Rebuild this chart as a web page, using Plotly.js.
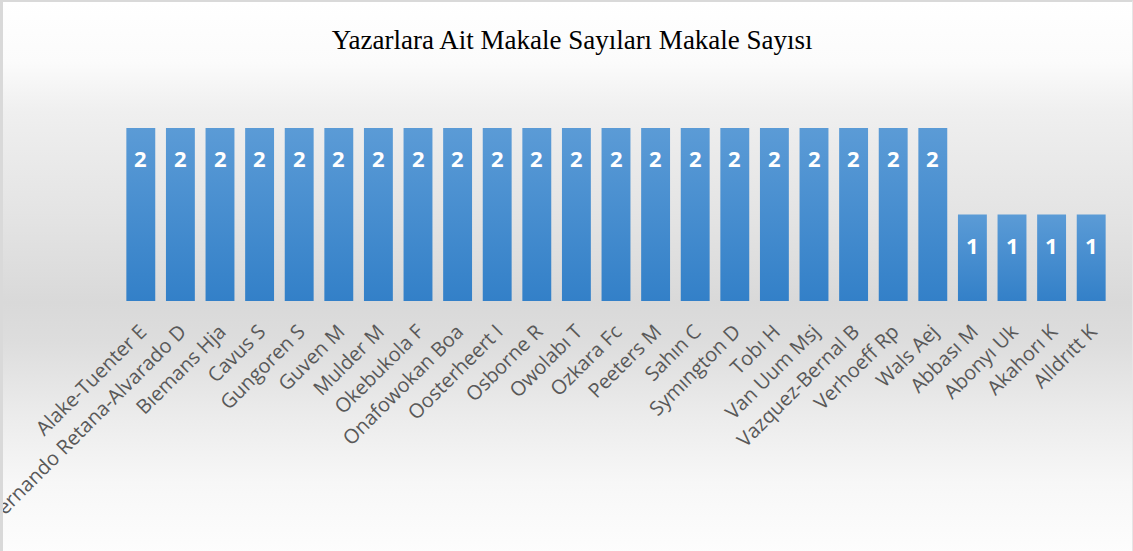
<!DOCTYPE html>
<html>
<head>
<meta charset="utf-8">
<script src="https://cdn.plot.ly/plotly-3.0.1.min.js"></script>
<style>
  html, body { margin: 0; padding: 0; }
  #wrap {
    position: relative; width: 1133px; height: 551px; box-sizing: border-box; overflow: hidden;
    border-top: 2px solid #d9d9d9; border-left: 3px solid #d9d9d9; border-right: 1px solid #e6e6e6;
    background: linear-gradient(to bottom, #ffffff 0px, #fbfbfb 60px, #efefef 110px, #e3e3e3 220px, #d9d9d9 300px, #dddddd 340px, #ebebeb 410px, #f7f7f7 480px, #fdfdfd 551px);
  }
  #chart { position: absolute; left: -3px; top: -2px; width: 1133px; height: 551px; }
</style>
</head>
<body>
<div id="wrap"><div id="chart"></div></div>
<script>
const authors = [
  "Alake-Tuenter E", "Fernando Retana-Alvarado D", "Bıemans Hja", "Cavus S", "Gungoren S",
  "Guven M", "Mulder M", "Okebukola F", "Onafowokan Boa", "Oosterheert I",
  "Osborne R", "Owolabı T", "Ozkara Fc", "Peeters M", "Sahın C",
  "Symıngton D", "Tobı H", "Van Uum Msj", "Vazquez-Bernal B", "Verhoeff Rp",
  "Wals Aej", "Abbası M", "Abonyı Uk", "Akahorı K", "Alldrıtt K"
];
const counts = [2,2,2,2,2, 2,2,2,2,2, 2,2,2,2,2, 2,2,2,2,2, 2,1,1,1,1];
const chartTitle = "Yazarlara Ait Makale Sayıları Makale Sayısı";

const trace = {
  type: 'bar', x: authors, y: counts,
  marker: { color: '#4a8fd3', line: { width: 0 } },
  hoverinfo: 'none', cliponaxis: false
};

const annotations = authors.map((a, i) => ({
  x: a, y: counts[i], xref: 'x', yref: 'y', text: String(counts[i]),
  showarrow: false, yanchor: 'middle', yshift: -30,
  font: { family: 'Open Sans, sans-serif', size: 22, color: '#ffffff', weight: 'bold' }
}));

const layout = {
  width: 1133, height: 551,
  paper_bgcolor: 'rgba(0,0,0,0)', plot_bgcolor: 'rgba(0,0,0,0)',
  margin: { l: 120.7, r: 21.7, t: 128, b: 250, autoexpand: false },
  bargap: 0.27,
  showlegend: false,
  title: {
    text: chartTitle, xref: 'container', yref: 'container', x: 0.505, y: 0.928,
    xanchor: 'center', yanchor: 'middle',
    font: { family: 'Liberation Serif, Times New Roman, serif', size: 27, color: '#000000' }
  },
  xaxis: {
    type: 'category', tickangle: -45, automargin: false, showgrid: false, zeroline: false,
    showline: false, ticks: '', ticklabelstandoff: 14,
    tickfont: { family: 'Open Sans, sans-serif', size: 20, color: '#595959' }
  },
  yaxis: { range: [0, 2], visible: false, fixedrange: true },
  annotations: annotations
};

function applyGradient(gd) {
  const svg = gd.querySelector('svg.main-svg');
  if (!svg) return;
  let defs = svg.querySelector('defs');
  if (!defs) { defs = document.createElementNS('http://www.w3.org/2000/svg', 'defs'); svg.insertBefore(defs, svg.firstChild); }
  if (!svg.querySelector('#barGrad')) {
    const ns = 'http://www.w3.org/2000/svg';
    const lg = document.createElementNS(ns, 'linearGradient');
    lg.setAttribute('id', 'barGrad');
    lg.setAttribute('x1', '0'); lg.setAttribute('y1', '0');
    lg.setAttribute('x2', '0'); lg.setAttribute('y2', '1');
    [['0', '#5b9bd6'], ['1', '#3380c8']].forEach(([o, c]) => {
      const s = document.createElementNS(ns, 'stop');
      s.setAttribute('offset', o); s.setAttribute('stop-color', c);
      lg.appendChild(s);
    });
    defs.appendChild(lg);
  }
  gd.querySelectorAll('.bars .point path').forEach(p => { p.style.fill = 'url(#barGrad)'; });
}

const gd = document.getElementById('chart');
Plotly.newPlot(gd, [trace], layout, { displayModeBar: false, staticPlot: true }).then(() => {
  applyGradient(gd);
  gd.on('plotly_afterplot', () => applyGradient(gd));
});
</script>
</body>
</html>
